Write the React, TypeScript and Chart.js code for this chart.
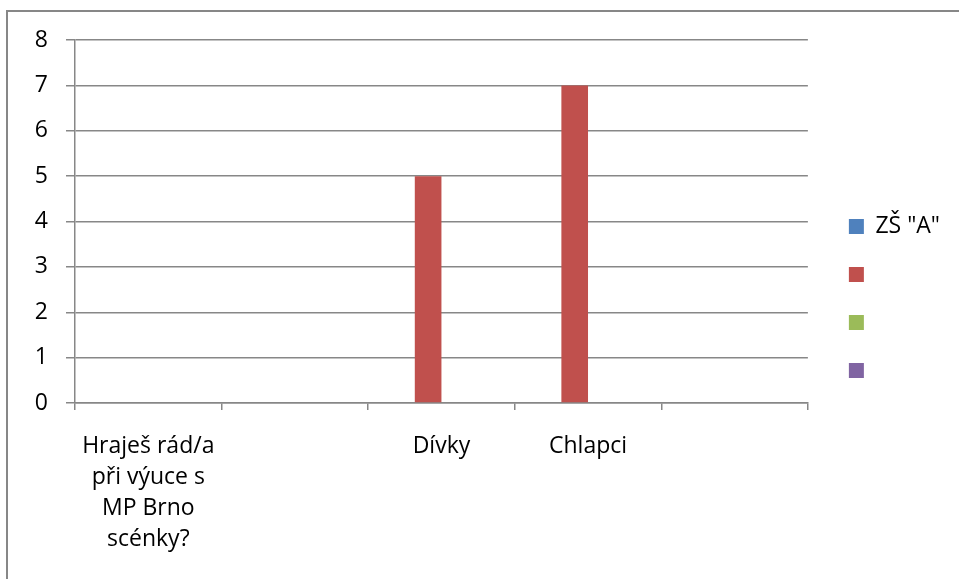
import React, { useEffect, useRef } from "react";
import { Chart, registerables } from "chart.js";

Chart.register(...registerables);

const categories: (string | string[])[] = [
  ["Hraješ rád/a", "při výuce s", "MP Brno", "scénky?"],
  "",
  "Dívky",
  "Chlapci",
  "",
];
const seriesNames = ['ZŠ "A"', "", "", ""];
const seriesA: (number | null)[] = [null, null, null, null, null];
const series2: (number | null)[] = [null, null, 5, 7, null];
const series3: (number | null)[] = [null, null, null, null, null];
const series4: (number | null)[] = [null, null, null, null, null];
const yTicks = [0, 1, 2, 3, 4, 5, 6, 7, 8];

const colors = ["#4F81BD", "#C0504D", "#9BBB59", "#8064A2"];
const FONT = "'Open Sans', sans-serif";
const GRID = "#878787";

export default function App() {
  const ref = useRef<HTMLCanvasElement | null>(null);
  useEffect(() => {
    if (!ref.current) return;
    const allSeries = [seriesA, series2, series3, series4];
    const chart = new Chart(ref.current, {
      type: "bar",
      data: {
        labels: categories,
        datasets: allSeries.map((d, i) => ({
          label: seriesNames[i],
          data: d,
          backgroundColor: colors[i],
          borderWidth: 0,
          categoryPercentage: 0.727,
          barPercentage: 1,
        })),
      },
      options: {
        responsive: false,
        animation: false,
        devicePixelRatio: 1,
        layout: { padding: { top: 40, bottom: 22, left: 0, right: 9 } },
        plugins: {
          tooltip: { enabled: false },
          legend: {
            position: "right",
            align: "center",
            labels: {
              boxWidth: 15,
              boxHeight: 15,
              padding: 25,
              color: "#000",
              font: { family: FONT, size: 23 },
            },
          },
        },
        scales: {
          x: {
            type: "category",
            offset: true,
            grid: {
              offset: true,
              drawOnChartArea: false,
              drawTicks: true,
              tickLength: 7,
              color: GRID,
              lineWidth: 1.5,
            },
            border: { display: true, color: GRID, width: 1.5 },
            ticks: {
              color: "#000",
              padding: 21,
              maxRotation: 0,
              autoSkip: false,
              font: { family: FONT, size: 23, lineHeight: 1.35 },
            },
            afterFit: (s: any) => {
              s.height = 154;
            },
          },
          y: {
            min: 0,
            max: 8,
            afterBuildTicks: (s: any) => {
              s.ticks = yTicks.map((v) => ({ value: v }));
            },
            grid: { color: GRID, lineWidth: 1.5, tickLength: 9 },
            border: { display: true, color: GRID, width: 1.5 },
            ticks: {
              color: "#000",
              padding: 18,
              font: { family: FONT, size: 23 },
            },
            afterFit: (s: any) => {
              s.width = 75;
            },
          },
          y2: {
            type: "linear",
            position: "right",
            display: true,
            grid: { display: false },
            border: { display: false },
            ticks: { display: false },
            afterFit: (s: any) => {
              s.width = 16;
            },
          },
        },
      },
    });
    return () => chart.destroy();
  }, []);

  return (
    <div style={{ position: "fixed", left: 0, top: 0, width: 959, height: 579, background: "#fff" }}>
      <div
        style={{
          position: "absolute",
          left: 6,
          top: 10,
          right: 0,
          bottom: 0,
          borderLeft: `2px solid ${GRID}`,
          borderTop: `2px solid ${GRID}`,
        }}
      />
      <canvas ref={ref} width={959} height={579} style={{ position: "absolute", left: 0, top: 0 }} />
    </div>
  );
}
